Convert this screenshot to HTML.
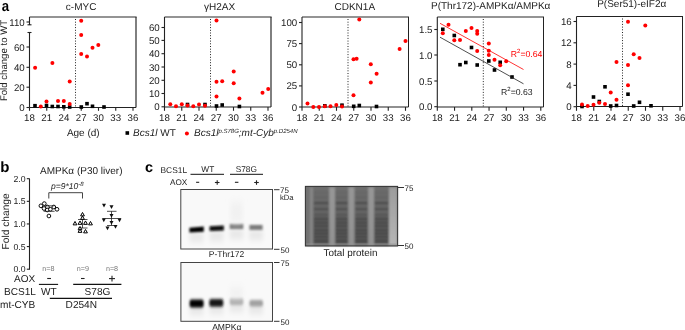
<!DOCTYPE html>
<html><head><meta charset="utf-8"><style>
html,body{margin:0;padding:0;background:#fff;width:685px;height:330px;overflow:hidden;position:relative}
</style></head><body>
<svg width="685" height="330" viewBox="0 0 685 330" style="position:absolute;left:0;top:0;will-change:transform" text-rendering="geometricPrecision" font-family='"Liberation Sans", sans-serif'>
<rect width="685" height="330" fill="#fff"/>
<text transform="translate(1.7,10.6) scale(0.88,1)" font-size="15" font-weight="bold" fill="#000">a</text>
<text transform="translate(7.0,60.5) rotate(-90)" font-size="9.62" text-anchor="middle" fill="#222">Fold change to WT</text>
<line x1="29.5" y1="17" x2="136.6" y2="17" stroke="#2a2a2a" stroke-width="1.2" />
<line x1="136" y1="17" x2="136" y2="107.5" stroke="#2a2a2a" stroke-width="1.2" />
<line x1="29.5" y1="107.5" x2="136" y2="107.5" stroke="#222" stroke-width="1.1" />
<line x1="29.5" y1="17" x2="29.5" y2="25" stroke="#222" stroke-width="1.1" />
<line x1="27.5" y1="24.8" x2="31.5" y2="24.8" stroke="#222" stroke-width="1.1" />
<line x1="29.5" y1="32.5" x2="29.5" y2="107.5" stroke="#222" stroke-width="1.1" />
<line x1="27.5" y1="32.5" x2="31.5" y2="32.5" stroke="#222" stroke-width="1.1" />
<line x1="26.5" y1="22" x2="29.5" y2="22" stroke="#222" stroke-width="1.1" />
<text x="24.7" y="25.5" font-size="9.7" text-anchor="end" fill="#222" >110</text>
<line x1="26.5" y1="47" x2="29.5" y2="47" stroke="#222" stroke-width="1.1" />
<text x="24.7" y="50.5" font-size="9.7" text-anchor="end" fill="#222" >60</text>
<line x1="26.5" y1="67.3" x2="29.5" y2="67.3" stroke="#222" stroke-width="1.1" />
<text x="24.7" y="70.8" font-size="9.7" text-anchor="end" fill="#222" >40</text>
<line x1="26.5" y1="87.2" x2="29.5" y2="87.2" stroke="#222" stroke-width="1.1" />
<text x="24.7" y="90.7" font-size="9.7" text-anchor="end" fill="#222" >20</text>
<line x1="26.5" y1="107.5" x2="29.5" y2="107.5" stroke="#222" stroke-width="1.1" />
<text x="24.7" y="111.0" font-size="9.7" text-anchor="end" fill="#222" >0</text>
<line x1="29.5" y1="107.5" x2="29.5" y2="110.8" stroke="#222" stroke-width="1.1" />
<text x="29.5" y="121.0" font-size="9.7" text-anchor="middle" fill="#222" >18</text>
<line x1="46.75" y1="107.5" x2="46.75" y2="110.8" stroke="#222" stroke-width="1.1" />
<text x="46.75" y="121.0" font-size="9.7" text-anchor="middle" fill="#222" >21</text>
<line x1="64.0" y1="107.5" x2="64.0" y2="110.8" stroke="#222" stroke-width="1.1" />
<text x="64.0" y="121.0" font-size="9.7" text-anchor="middle" fill="#222" >24</text>
<line x1="81.25" y1="107.5" x2="81.25" y2="110.8" stroke="#222" stroke-width="1.1" />
<text x="81.25" y="121.0" font-size="9.7" text-anchor="middle" fill="#222" >27</text>
<line x1="98.5" y1="107.5" x2="98.5" y2="110.8" stroke="#222" stroke-width="1.1" />
<text x="98.5" y="121.0" font-size="9.7" text-anchor="middle" fill="#222" >30</text>
<line x1="115.75" y1="107.5" x2="115.75" y2="110.8" stroke="#222" stroke-width="1.1" />
<text x="115.75" y="121.0" font-size="9.7" text-anchor="middle" fill="#222" >33</text>
<line x1="133.0" y1="107.5" x2="133.0" y2="110.8" stroke="#222" stroke-width="1.1" />
<text x="133.0" y="121.0" font-size="9.7" text-anchor="middle" fill="#222" >36</text>
<line x1="75.5" y1="19" x2="75.5" y2="107.5" stroke="#222" stroke-width="1" stroke-dasharray="1 1.7"/>
<rect x="33.20" y="103.90" width="3.6" height="3.6" fill="#000"/>
<rect x="44.70" y="103.70" width="3.6" height="3.6" fill="#000"/>
<rect x="50.50" y="104.70" width="3.6" height="3.6" fill="#000"/>
<rect x="56.20" y="104.70" width="3.6" height="3.6" fill="#000"/>
<rect x="62.00" y="105.00" width="3.6" height="3.6" fill="#000"/>
<rect x="67.90" y="105.20" width="3.6" height="3.6" fill="#000"/>
<rect x="79.50" y="105.20" width="3.6" height="3.6" fill="#000"/>
<rect x="85.20" y="101.90" width="3.6" height="3.6" fill="#000"/>
<rect x="90.70" y="104.50" width="3.6" height="3.6" fill="#000"/>
<rect x="102.20" y="105.20" width="3.6" height="3.6" fill="#000"/>
<circle cx="35.1" cy="67.8" r="2" fill="#ff0000"/>
<circle cx="40.8" cy="106.5" r="2" fill="#ff0000"/>
<circle cx="46.5" cy="101.5" r="2" fill="#ff0000"/>
<circle cx="52.4" cy="63" r="2" fill="#ff0000"/>
<circle cx="58" cy="101" r="2" fill="#ff0000"/>
<circle cx="63.8" cy="101" r="2" fill="#ff0000"/>
<circle cx="69.7" cy="81.5" r="2" fill="#ff0000"/>
<circle cx="69.7" cy="104" r="2" fill="#ff0000"/>
<circle cx="81.2" cy="20.8" r="2" fill="#ff0000"/>
<circle cx="81.2" cy="35" r="2" fill="#ff0000"/>
<circle cx="81.2" cy="54" r="2" fill="#ff0000"/>
<circle cx="87" cy="56.5" r="2" fill="#ff0000"/>
<circle cx="92.5" cy="47.7" r="2" fill="#ff0000"/>
<circle cx="98.3" cy="45" r="2" fill="#ff0000"/>
<text x="65.8" y="9.5" font-size="10" text-anchor="start" fill="#222" >c-MYC</text>
<line x1="164.5" y1="17" x2="271.6" y2="17" stroke="#2a2a2a" stroke-width="1.2" />
<line x1="271" y1="17" x2="271" y2="107" stroke="#2a2a2a" stroke-width="1.2" />
<line x1="164.5" y1="107" x2="271" y2="107" stroke="#222" stroke-width="1.1" />
<line x1="164.5" y1="17" x2="164.5" y2="107" stroke="#222" stroke-width="1.1" />
<line x1="161.5" y1="27.5" x2="164.5" y2="27.5" stroke="#222" stroke-width="1.1" />
<text x="159.7" y="31.0" font-size="9.7" text-anchor="end" fill="#222" >60</text>
<line x1="161.5" y1="40.4" x2="164.5" y2="40.4" stroke="#222" stroke-width="1.1" />
<text x="159.7" y="43.9" font-size="9.7" text-anchor="end" fill="#222" >50</text>
<line x1="161.5" y1="53.7" x2="164.5" y2="53.7" stroke="#222" stroke-width="1.1" />
<text x="159.7" y="57.2" font-size="9.7" text-anchor="end" fill="#222" >40</text>
<line x1="161.5" y1="67" x2="164.5" y2="67" stroke="#222" stroke-width="1.1" />
<text x="159.7" y="70.5" font-size="9.7" text-anchor="end" fill="#222" >30</text>
<line x1="161.5" y1="80.3" x2="164.5" y2="80.3" stroke="#222" stroke-width="1.1" />
<text x="159.7" y="83.8" font-size="9.7" text-anchor="end" fill="#222" >20</text>
<line x1="161.5" y1="93.5" x2="164.5" y2="93.5" stroke="#222" stroke-width="1.1" />
<text x="159.7" y="97.0" font-size="9.7" text-anchor="end" fill="#222" >10</text>
<line x1="161.5" y1="106.8" x2="164.5" y2="106.8" stroke="#222" stroke-width="1.1" />
<text x="159.7" y="110.3" font-size="9.7" text-anchor="end" fill="#222" >0</text>
<line x1="164.5" y1="107" x2="164.5" y2="110.8" stroke="#222" stroke-width="1.1" />
<text x="164.5" y="121.0" font-size="9.7" text-anchor="middle" fill="#222" >18</text>
<line x1="181.75" y1="107" x2="181.75" y2="110.8" stroke="#222" stroke-width="1.1" />
<text x="181.75" y="121.0" font-size="9.7" text-anchor="middle" fill="#222" >21</text>
<line x1="199.0" y1="107" x2="199.0" y2="110.8" stroke="#222" stroke-width="1.1" />
<text x="199.0" y="121.0" font-size="9.7" text-anchor="middle" fill="#222" >24</text>
<line x1="216.25" y1="107" x2="216.25" y2="110.8" stroke="#222" stroke-width="1.1" />
<text x="216.25" y="121.0" font-size="9.7" text-anchor="middle" fill="#222" >27</text>
<line x1="233.5" y1="107" x2="233.5" y2="110.8" stroke="#222" stroke-width="1.1" />
<text x="233.5" y="121.0" font-size="9.7" text-anchor="middle" fill="#222" >30</text>
<line x1="250.75" y1="107" x2="250.75" y2="110.8" stroke="#222" stroke-width="1.1" />
<text x="250.75" y="121.0" font-size="9.7" text-anchor="middle" fill="#222" >33</text>
<line x1="268.0" y1="107" x2="268.0" y2="110.8" stroke="#222" stroke-width="1.1" />
<text x="268.0" y="121.0" font-size="9.7" text-anchor="middle" fill="#222" >36</text>
<line x1="210.5" y1="19" x2="210.5" y2="107" stroke="#222" stroke-width="1" stroke-dasharray="1 1.7"/>
<rect x="185.70" y="102.70" width="3.6" height="3.6" fill="#000"/>
<rect x="203.20" y="102.70" width="3.6" height="3.6" fill="#000"/>
<rect x="214.70" y="104.20" width="3.6" height="3.6" fill="#000"/>
<rect x="220.40" y="103.20" width="3.6" height="3.6" fill="#000"/>
<rect x="237.60" y="104.70" width="3.6" height="3.6" fill="#000"/>
<circle cx="170.3" cy="104.3" r="2" fill="#ff0000"/>
<circle cx="176" cy="106.3" r="2" fill="#ff0000"/>
<circle cx="181.8" cy="104.3" r="2" fill="#ff0000"/>
<circle cx="187.5" cy="105.5" r="2" fill="#ff0000"/>
<circle cx="193.3" cy="106.3" r="2" fill="#ff0000"/>
<circle cx="199" cy="104.5" r="2" fill="#ff0000"/>
<circle cx="205" cy="105.8" r="2" fill="#ff0000"/>
<circle cx="216.5" cy="20.5" r="2" fill="#ff0000"/>
<circle cx="216.5" cy="81.8" r="2" fill="#ff0000"/>
<circle cx="222.2" cy="81.2" r="2" fill="#ff0000"/>
<circle cx="233.7" cy="83.2" r="2" fill="#ff0000"/>
<circle cx="216.5" cy="96.5" r="2" fill="#ff0000"/>
<circle cx="239.4" cy="98.5" r="2" fill="#ff0000"/>
<circle cx="262.5" cy="92.7" r="2" fill="#ff0000"/>
<circle cx="268.2" cy="89" r="2" fill="#ff0000"/>
<circle cx="233.7" cy="71.4" r="2" fill="#ff0000"/>
<text x="204" y="9.6" font-size="10" text-anchor="start" fill="#222" >γH2AX</text>
<line x1="302" y1="17" x2="409.0" y2="17" stroke="#2a2a2a" stroke-width="1.2" />
<line x1="408.5" y1="17" x2="408.5" y2="107" stroke="#222" stroke-width="1.0" />
<line x1="302" y1="107" x2="408.5" y2="107" stroke="#222" stroke-width="1.1" />
<line x1="302" y1="17" x2="302" y2="107" stroke="#222" stroke-width="1.1" />
<line x1="299" y1="22.5" x2="302" y2="22.5" stroke="#222" stroke-width="1.1" />
<text x="297.2" y="26.0" font-size="9.7" text-anchor="end" fill="#222" >100</text>
<line x1="299" y1="43.6" x2="302" y2="43.6" stroke="#222" stroke-width="1.1" />
<text x="297.2" y="47.1" font-size="9.7" text-anchor="end" fill="#222" >75</text>
<line x1="299" y1="64.8" x2="302" y2="64.8" stroke="#222" stroke-width="1.1" />
<text x="297.2" y="68.3" font-size="9.7" text-anchor="end" fill="#222" >50</text>
<line x1="299" y1="85.9" x2="302" y2="85.9" stroke="#222" stroke-width="1.1" />
<text x="297.2" y="89.4" font-size="9.7" text-anchor="end" fill="#222" >25</text>
<line x1="299" y1="107" x2="302" y2="107" stroke="#222" stroke-width="1.1" />
<text x="297.2" y="110.5" font-size="9.7" text-anchor="end" fill="#222" >0</text>
<line x1="302.0" y1="107" x2="302.0" y2="110.8" stroke="#222" stroke-width="1.1" />
<text x="302.0" y="121.0" font-size="9.7" text-anchor="middle" fill="#222" >18</text>
<line x1="319.25" y1="107" x2="319.25" y2="110.8" stroke="#222" stroke-width="1.1" />
<text x="319.25" y="121.0" font-size="9.7" text-anchor="middle" fill="#222" >21</text>
<line x1="336.5" y1="107" x2="336.5" y2="110.8" stroke="#222" stroke-width="1.1" />
<text x="336.5" y="121.0" font-size="9.7" text-anchor="middle" fill="#222" >24</text>
<line x1="353.75" y1="107" x2="353.75" y2="110.8" stroke="#222" stroke-width="1.1" />
<text x="353.75" y="121.0" font-size="9.7" text-anchor="middle" fill="#222" >27</text>
<line x1="371.0" y1="107" x2="371.0" y2="110.8" stroke="#222" stroke-width="1.1" />
<text x="371.0" y="121.0" font-size="9.7" text-anchor="middle" fill="#222" >30</text>
<line x1="388.25" y1="107" x2="388.25" y2="110.8" stroke="#222" stroke-width="1.1" />
<text x="388.25" y="121.0" font-size="9.7" text-anchor="middle" fill="#222" >33</text>
<line x1="405.5" y1="107" x2="405.5" y2="110.8" stroke="#222" stroke-width="1.1" />
<text x="405.5" y="121.0" font-size="9.7" text-anchor="middle" fill="#222" >36</text>
<line x1="348.0" y1="19" x2="348.0" y2="107" stroke="#222" stroke-width="1" stroke-dasharray="1 1.7"/>
<rect x="323.00" y="104.00" width="3.6" height="3.6" fill="#000"/>
<rect x="340.20" y="103.40" width="3.6" height="3.6" fill="#000"/>
<rect x="351.90" y="104.50" width="3.6" height="3.6" fill="#000"/>
<rect x="357.50" y="103.70" width="3.6" height="3.6" fill="#000"/>
<rect x="374.70" y="104.70" width="3.6" height="3.6" fill="#000"/>
<circle cx="307.5" cy="103.5" r="2" fill="#ff0000"/>
<circle cx="313.3" cy="107" r="2" fill="#ff0000"/>
<circle cx="319" cy="107" r="2" fill="#ff0000"/>
<circle cx="324.8" cy="106.3" r="2" fill="#ff0000"/>
<circle cx="330.5" cy="106.3" r="2" fill="#ff0000"/>
<circle cx="336.3" cy="105" r="2" fill="#ff0000"/>
<circle cx="342" cy="106.5" r="2" fill="#ff0000"/>
<circle cx="353.5" cy="95.3" r="2" fill="#ff0000"/>
<circle cx="353.5" cy="59.2" r="2" fill="#ff0000"/>
<circle cx="356.6" cy="58.8" r="2" fill="#ff0000"/>
<circle cx="359.3" cy="19.5" r="2" fill="#ff0000"/>
<circle cx="370.8" cy="64.2" r="2" fill="#ff0000"/>
<circle cx="370.8" cy="82.5" r="2" fill="#ff0000"/>
<circle cx="376.6" cy="73.8" r="2" fill="#ff0000"/>
<circle cx="399.6" cy="49" r="2" fill="#ff0000"/>
<circle cx="405.5" cy="41" r="2" fill="#ff0000"/>
<text x="334.5" y="9.6" font-size="10" text-anchor="start" fill="#222" >CDKN1A</text>
<line x1="437.3" y1="17" x2="544.0" y2="17" stroke="#2a2a2a" stroke-width="1.2" />
<line x1="543.5" y1="17" x2="543.5" y2="107" stroke="#222" stroke-width="1.0" />
<line x1="437.3" y1="107" x2="543.5" y2="107" stroke="#222" stroke-width="1.1" />
<line x1="437.3" y1="17" x2="437.3" y2="107" stroke="#222" stroke-width="1.1" />
<line x1="434.3" y1="29.5" x2="437.3" y2="29.5" stroke="#222" stroke-width="1.1" />
<text x="432.5" y="33.0" font-size="9.7" text-anchor="end" fill="#222" >1.5</text>
<line x1="434.3" y1="55" x2="437.3" y2="55" stroke="#222" stroke-width="1.1" />
<text x="432.5" y="58.5" font-size="9.7" text-anchor="end" fill="#222" >1.0</text>
<line x1="434.3" y1="81" x2="437.3" y2="81" stroke="#222" stroke-width="1.1" />
<text x="432.5" y="84.5" font-size="9.7" text-anchor="end" fill="#222" >0.5</text>
<line x1="434.3" y1="106.7" x2="437.3" y2="106.7" stroke="#222" stroke-width="1.1" />
<text x="432.5" y="110.2" font-size="9.7" text-anchor="end" fill="#222" >0.0</text>
<line x1="437.3" y1="107" x2="437.3" y2="110.8" stroke="#222" stroke-width="1.1" />
<text x="437.3" y="121.0" font-size="9.7" text-anchor="middle" fill="#222" >18</text>
<line x1="454.55" y1="107" x2="454.55" y2="110.8" stroke="#222" stroke-width="1.1" />
<text x="454.55" y="121.0" font-size="9.7" text-anchor="middle" fill="#222" >21</text>
<line x1="471.8" y1="107" x2="471.8" y2="110.8" stroke="#222" stroke-width="1.1" />
<text x="471.8" y="121.0" font-size="9.7" text-anchor="middle" fill="#222" >24</text>
<line x1="489.05" y1="107" x2="489.05" y2="110.8" stroke="#222" stroke-width="1.1" />
<text x="489.05" y="121.0" font-size="9.7" text-anchor="middle" fill="#222" >27</text>
<line x1="506.3" y1="107" x2="506.3" y2="110.8" stroke="#222" stroke-width="1.1" />
<text x="506.3" y="121.0" font-size="9.7" text-anchor="middle" fill="#222" >30</text>
<line x1="523.55" y1="107" x2="523.55" y2="110.8" stroke="#222" stroke-width="1.1" />
<text x="523.55" y="121.0" font-size="9.7" text-anchor="middle" fill="#222" >33</text>
<line x1="540.8" y1="107" x2="540.8" y2="110.8" stroke="#222" stroke-width="1.1" />
<text x="540.8" y="121.0" font-size="9.7" text-anchor="middle" fill="#222" >36</text>
<line x1="483.3" y1="19" x2="483.3" y2="107" stroke="#222" stroke-width="1" stroke-dasharray="1 1.7"/>
<rect x="441.00" y="27.50" width="3.6" height="3.6" fill="#000"/>
<rect x="452.50" y="33.70" width="3.6" height="3.6" fill="#000"/>
<rect x="458.20" y="62.90" width="3.6" height="3.6" fill="#000"/>
<rect x="464.00" y="60.70" width="3.6" height="3.6" fill="#000"/>
<rect x="469.70" y="45.70" width="3.6" height="3.6" fill="#000"/>
<rect x="475.40" y="63.20" width="3.6" height="3.6" fill="#000"/>
<rect x="487.00" y="59.20" width="3.6" height="3.6" fill="#000"/>
<rect x="492.70" y="68.20" width="3.6" height="3.6" fill="#000"/>
<rect x="498.40" y="60.50" width="3.6" height="3.6" fill="#000"/>
<rect x="510.20" y="75.20" width="3.6" height="3.6" fill="#000"/>
<circle cx="442.8" cy="33.2" r="2" fill="#ff0000"/>
<circle cx="448.5" cy="24.7" r="2" fill="#ff0000"/>
<circle cx="454.3" cy="40.3" r="2" fill="#ff0000"/>
<circle cx="460" cy="40" r="2" fill="#ff0000"/>
<circle cx="465.8" cy="31" r="2" fill="#ff0000"/>
<circle cx="471.5" cy="28" r="2" fill="#ff0000"/>
<circle cx="477.2" cy="31" r="2" fill="#ff0000"/>
<circle cx="477.2" cy="33.8" r="2" fill="#ff0000"/>
<circle cx="477.2" cy="51" r="2" fill="#ff0000"/>
<circle cx="488.8" cy="43.5" r="2" fill="#ff0000"/>
<circle cx="488.8" cy="50.8" r="2" fill="#ff0000"/>
<circle cx="488.8" cy="55" r="2" fill="#ff0000"/>
<circle cx="494.5" cy="59.8" r="2" fill="#ff0000"/>
<circle cx="500.2" cy="65.3" r="2" fill="#ff0000"/>
<circle cx="506.2" cy="61.2" r="2" fill="#ff0000"/>
<text x="431" y="9.3" font-size="10" text-anchor="start" fill="#222" >P(Thr172)-AMPKα/AMPKα</text>
<line x1="440" y1="23.3" x2="523.5" y2="69.5" stroke="#ff0000" stroke-width="0.8" />
<line x1="440" y1="37.2" x2="523.5" y2="83.8" stroke="#222" stroke-width="0.8" />
<text x="510.8" y="56.5" font-size="8.7" fill="#ff0000">R<tspan font-size="6" dy="-3.5">2</tspan><tspan dy="3.5">=0.64</tspan></text>
<text x="501" y="94.8" font-size="8.7" fill="#222">R<tspan font-size="6" dy="-3.5">2</tspan><tspan dy="3.5">=0.63</tspan></text>
<line x1="576.5" y1="16.5" x2="683.0" y2="16.5" stroke="#222" stroke-width="1.0" />
<line x1="682.5" y1="16.5" x2="682.5" y2="106.5" stroke="#222" stroke-width="1.0" />
<line x1="576.5" y1="106.5" x2="682.5" y2="106.5" stroke="#222" stroke-width="1.1" />
<line x1="576.5" y1="16.5" x2="576.5" y2="106.5" stroke="#222" stroke-width="1.1" />
<line x1="573.5" y1="21.5" x2="576.5" y2="21.5" stroke="#222" stroke-width="1.1" />
<text x="571.7" y="25.0" font-size="9.7" text-anchor="end" fill="#222" >16</text>
<line x1="573.5" y1="42.8" x2="576.5" y2="42.8" stroke="#222" stroke-width="1.1" />
<text x="571.7" y="46.3" font-size="9.7" text-anchor="end" fill="#222" >12</text>
<line x1="573.5" y1="64.1" x2="576.5" y2="64.1" stroke="#222" stroke-width="1.1" />
<text x="571.7" y="67.6" font-size="9.7" text-anchor="end" fill="#222" >8</text>
<line x1="573.5" y1="85.4" x2="576.5" y2="85.4" stroke="#222" stroke-width="1.1" />
<text x="571.7" y="88.9" font-size="9.7" text-anchor="end" fill="#222" >4</text>
<line x1="573.5" y1="106.7" x2="576.5" y2="106.7" stroke="#222" stroke-width="1.1" />
<text x="571.7" y="110.2" font-size="9.7" text-anchor="end" fill="#222" >0</text>
<line x1="576.5" y1="106.5" x2="576.5" y2="110.8" stroke="#222" stroke-width="1.1" />
<text x="576.5" y="121.0" font-size="9.7" text-anchor="middle" fill="#222" >18</text>
<line x1="593.75" y1="106.5" x2="593.75" y2="110.8" stroke="#222" stroke-width="1.1" />
<text x="593.75" y="121.0" font-size="9.7" text-anchor="middle" fill="#222" >21</text>
<line x1="611.0" y1="106.5" x2="611.0" y2="110.8" stroke="#222" stroke-width="1.1" />
<text x="611.0" y="121.0" font-size="9.7" text-anchor="middle" fill="#222" >24</text>
<line x1="628.25" y1="106.5" x2="628.25" y2="110.8" stroke="#222" stroke-width="1.1" />
<text x="628.25" y="121.0" font-size="9.7" text-anchor="middle" fill="#222" >27</text>
<line x1="645.5" y1="106.5" x2="645.5" y2="110.8" stroke="#222" stroke-width="1.1" />
<text x="645.5" y="121.0" font-size="9.7" text-anchor="middle" fill="#222" >30</text>
<line x1="662.75" y1="106.5" x2="662.75" y2="110.8" stroke="#222" stroke-width="1.1" />
<text x="662.75" y="121.0" font-size="9.7" text-anchor="middle" fill="#222" >33</text>
<line x1="680.0" y1="106.5" x2="680.0" y2="110.8" stroke="#222" stroke-width="1.1" />
<text x="680.0" y="121.0" font-size="9.7" text-anchor="middle" fill="#222" >36</text>
<line x1="622.5" y1="18.5" x2="622.5" y2="106.5" stroke="#222" stroke-width="1" stroke-dasharray="1 1.7"/>
<rect x="580.20" y="104.70" width="3.6" height="3.6" fill="#000"/>
<rect x="591.70" y="95.20" width="3.6" height="3.6" fill="#000"/>
<rect x="597.50" y="99.70" width="3.6" height="3.6" fill="#000"/>
<rect x="603.20" y="85.00" width="3.6" height="3.6" fill="#000"/>
<rect x="608.90" y="104.20" width="3.6" height="3.6" fill="#000"/>
<rect x="614.70" y="103.70" width="3.6" height="3.6" fill="#000"/>
<rect x="626.20" y="92.40" width="3.6" height="3.6" fill="#000"/>
<rect x="631.90" y="104.20" width="3.6" height="3.6" fill="#000"/>
<rect x="637.70" y="100.50" width="3.6" height="3.6" fill="#000"/>
<rect x="649.20" y="104.00" width="3.6" height="3.6" fill="#000"/>
<circle cx="582" cy="104.5" r="2" fill="#ff0000"/>
<circle cx="587.7" cy="106" r="2" fill="#ff0000"/>
<circle cx="593.5" cy="104.7" r="2" fill="#ff0000"/>
<circle cx="599.3" cy="102.8" r="2" fill="#ff0000"/>
<circle cx="605" cy="104" r="2" fill="#ff0000"/>
<circle cx="610.7" cy="92.5" r="2" fill="#ff0000"/>
<circle cx="616.5" cy="99.8" r="2" fill="#ff0000"/>
<circle cx="616.5" cy="62" r="2" fill="#ff0000"/>
<circle cx="628" cy="85.3" r="2" fill="#ff0000"/>
<circle cx="628" cy="65" r="2" fill="#ff0000"/>
<circle cx="628" cy="21.8" r="2" fill="#ff0000"/>
<circle cx="633.7" cy="54.2" r="2" fill="#ff0000"/>
<circle cx="639.5" cy="58" r="2" fill="#ff0000"/>
<circle cx="645.3" cy="25.5" r="2" fill="#ff0000"/>
<text x="597.2" y="7.0" font-size="10" text-anchor="start" fill="#222" >P(Ser51)-eIF2α</text>
<text x="66.9" y="135.9" font-size="10" text-anchor="start" fill="#222" >Age (d)</text>
<rect x="125.50" y="131.20" width="3.6" height="3.6" fill="#000"/>
<text x="133" y="136.3" font-size="10" fill="#222"><tspan font-style="italic">Bcs1l</tspan> WT</text>
<circle cx="186.9" cy="133.6" r="2" fill="#ff0000"/>
<text x="194" y="136.3" font-size="10" fill="#222" font-style="italic">Bcs1l<tspan font-size="6" dy="-3.5">p.S78G</tspan><tspan dy="3.5">;mt-Cyb</tspan><tspan font-size="6" dy="-3.5">p.D254N</tspan></text>
<text x="0.3" y="171.9" font-size="15" text-anchor="start" fill="#000" font-weight="bold">b</text>
<text x="40" y="173.8" font-size="10" text-anchor="start" fill="#222" >AMPKα (P30 liver)</text>
<text transform="translate(8.8,221.4) rotate(-90)" font-size="10.2" text-anchor="middle" fill="#222">Fold change</text>
<line x1="29.5" y1="178.5" x2="29.5" y2="269.7" stroke="#222" stroke-width="1.1" />
<line x1="26.8" y1="178.7" x2="29.5" y2="178.7" stroke="#222" stroke-width="1.1" />
<text x="25.6" y="181.79999999999998" font-size="8.7" text-anchor="end" fill="#222" >2.0</text>
<line x1="26.8" y1="201.325" x2="29.5" y2="201.325" stroke="#222" stroke-width="1.1" />
<text x="25.6" y="204.42499999999998" font-size="8.7" text-anchor="end" fill="#222" >1.5</text>
<line x1="26.8" y1="223.95" x2="29.5" y2="223.95" stroke="#222" stroke-width="1.1" />
<text x="25.6" y="227.04999999999998" font-size="8.7" text-anchor="end" fill="#222" >1.0</text>
<line x1="26.8" y1="246.575" x2="29.5" y2="246.575" stroke="#222" stroke-width="1.1" />
<text x="25.6" y="249.67499999999998" font-size="8.7" text-anchor="end" fill="#222" >0.5</text>
<line x1="26.8" y1="269.2" x2="29.5" y2="269.2" stroke="#222" stroke-width="1.1" />
<text x="25.6" y="272.3" font-size="8.7" text-anchor="end" fill="#222" >0.0</text>
<path d="M48.8 198.5 V192.7 H82.5 V198.5" fill="none" stroke="#444" stroke-width="1"/>
<text x="51" y="188.8" font-size="8.5" font-style="italic" fill="#222">p=9*10<tspan font-size="6" dy="-3.2">-8</tspan></text>
<circle cx="40.9" cy="205.8" r="1.85" fill="#fff" stroke="#000" stroke-width="0.95"/>
<circle cx="44.3" cy="203.6" r="1.85" fill="#fff" stroke="#000" stroke-width="0.95"/>
<circle cx="44" cy="208.5" r="1.85" fill="#fff" stroke="#000" stroke-width="0.95"/>
<circle cx="47.4" cy="207" r="1.85" fill="#fff" stroke="#000" stroke-width="0.95"/>
<circle cx="47.2" cy="210" r="1.85" fill="#fff" stroke="#000" stroke-width="0.95"/>
<circle cx="50.4" cy="209.3" r="1.85" fill="#fff" stroke="#000" stroke-width="0.95"/>
<circle cx="53.8" cy="207" r="1.85" fill="#fff" stroke="#000" stroke-width="0.95"/>
<circle cx="57" cy="209.3" r="1.85" fill="#fff" stroke="#000" stroke-width="0.95"/>
<circle cx="48.9" cy="216" r="1.85" fill="#fff" stroke="#000" stroke-width="0.95"/>
<line x1="43.6" y1="205.8" x2="54.6" y2="205.8" stroke="#222" stroke-width="0.8" />
<line x1="43.6" y1="211.3" x2="54.6" y2="211.3" stroke="#222" stroke-width="0.8" />
<line x1="78" y1="219.5" x2="87.5" y2="219.5" stroke="#222" stroke-width="0.8" />
<line x1="78" y1="228" x2="87.5" y2="228" stroke="#222" stroke-width="0.8" />
<line x1="82.5" y1="214" x2="82.5" y2="228" stroke="#222" stroke-width="0.8" />
<path d="M82.5 212.45 L84.40 215.87 L80.60 215.87 Z" fill="#fff" stroke="#000" stroke-width="1" stroke-linejoin="round"/>
<path d="M82.5 215.95 L84.40 219.37 L80.60 219.37 Z" fill="#fff" stroke="#000" stroke-width="1" stroke-linejoin="round"/>
<path d="M75 221.45 L76.90 224.87 L73.10 224.87 Z" fill="#fff" stroke="#000" stroke-width="1" stroke-linejoin="round"/>
<path d="M80 220.95 L81.90 224.37 L78.10 224.37 Z" fill="#fff" stroke="#000" stroke-width="1" stroke-linejoin="round"/>
<path d="M85.5 220.95 L87.40 224.37 L83.60 224.37 Z" fill="#fff" stroke="#000" stroke-width="1" stroke-linejoin="round"/>
<path d="M90.5 221.45 L92.40 224.87 L88.60 224.87 Z" fill="#fff" stroke="#000" stroke-width="1" stroke-linejoin="round"/>
<path d="M80 226.45 L81.90 229.87 L78.10 229.87 Z" fill="#fff" stroke="#000" stroke-width="1" stroke-linejoin="round"/>
<path d="M80 228.95 L81.90 232.37 L78.10 232.37 Z" fill="#fff" stroke="#000" stroke-width="1" stroke-linejoin="round"/>
<path d="M85.5 229.45 L87.40 232.87 L83.60 232.87 Z" fill="#fff" stroke="#000" stroke-width="1" stroke-linejoin="round"/>
<line x1="102.5" y1="218.5" x2="121" y2="218.5" stroke="#222" stroke-width="0.8" />
<line x1="107" y1="211.3" x2="116.5" y2="211.3" stroke="#222" stroke-width="0.8" />
<line x1="107" y1="225.5" x2="116.5" y2="225.5" stroke="#222" stroke-width="0.8" />
<line x1="111.5" y1="211.3" x2="111.5" y2="225.5" stroke="#222" stroke-width="0.8" />
<path d="M102.00 203.86 L106.00 203.86 L104 207.46 Z" fill="#111"/>
<path d="M109.50 205.36 L113.50 205.36 L111.5 208.96 Z" fill="#111"/>
<path d="M109.50 214.06 L113.50 214.06 L111.5 217.66 Z" fill="#111"/>
<path d="M101.80 218.56 L105.80 218.56 L103.8 222.16 Z" fill="#111"/>
<path d="M117.50 218.56 L121.50 218.56 L119.5 222.16 Z" fill="#111"/>
<path d="M109.50 221.06 L113.50 221.06 L111.5 224.66 Z" fill="#111"/>
<path d="M105.50 226.56 L109.50 226.56 L107.5 230.16 Z" fill="#111"/>
<path d="M113.50 225.06 L117.50 225.06 L115.5 228.66 Z" fill="#111"/>
<text x="48.3" y="271" font-size="7.2" text-anchor="middle" fill="#7a7a7a" >n=8</text>
<text x="82.9" y="271" font-size="7.2" text-anchor="middle" fill="#7a7a7a" >n=9</text>
<text x="112" y="271" font-size="7.2" text-anchor="middle" fill="#7a7a7a" >n=8</text>
<text x="14" y="281.5" font-size="10" text-anchor="start" fill="#222" >AOX</text>
<line x1="47.2" y1="278.5" x2="51" y2="278.5" stroke="#222" stroke-width="1.1" />
<line x1="81" y1="278.5" x2="84.6" y2="278.5" stroke="#222" stroke-width="1.1" />
<line x1="109" y1="278.6" x2="115" y2="278.6" stroke="#222" stroke-width="1.1" />
<line x1="112" y1="275.8" x2="112" y2="281.6" stroke="#222" stroke-width="1.1" />
<line x1="38.9" y1="284.4" x2="58.1" y2="284.4" stroke="#111" stroke-width="1.1" />
<line x1="73.2" y1="284.4" x2="121.4" y2="284.4" stroke="#111" stroke-width="1.1" />
<text x="4" y="294.5" font-size="10.1" text-anchor="start" fill="#222" >BCS1L</text>
<text x="41" y="294.5" font-size="10.1" text-anchor="start" fill="#222" >WT</text>
<text x="84.6" y="294.5" font-size="10.1" text-anchor="start" fill="#222" >S78G</text>
<line x1="49.8" y1="298.4" x2="112" y2="298.4" stroke="#111" stroke-width="1.1" />
<text x="0" y="308" font-size="10.1" text-anchor="start" fill="#222" >mt-CYB</text>
<text x="65.6" y="308" font-size="10.1" text-anchor="start" fill="#222" >D254N</text>
<text x="144.9" y="172.1" font-size="14.5" text-anchor="start" fill="#000" font-weight="bold">c</text>
<text x="160.5" y="172.5" font-size="8.4" text-anchor="start" fill="#222" >BCS1L</text>
<text x="207.8" y="171.5" font-size="8.3" text-anchor="middle" fill="#222" >WT</text>
<text x="246.3" y="171.5" font-size="8.3" text-anchor="middle" fill="#222" >S78G</text>
<line x1="190.5" y1="174.3" x2="224" y2="174.3" stroke="#111" stroke-width="1" />
<line x1="230" y1="174.3" x2="263" y2="174.3" stroke="#111" stroke-width="1" />
<text x="170" y="185.3" font-size="8.2" text-anchor="start" fill="#222" >AOX</text>
<line x1="196.1" y1="182.3" x2="199.2" y2="182.3" stroke="#222" stroke-width="1.1" />
<line x1="234.9" y1="182.3" x2="238.4" y2="182.3" stroke="#222" stroke-width="1.1" />
<line x1="214.89999999999998" y1="182.5" x2="219.5" y2="182.5" stroke="#222" stroke-width="1.1" />
<line x1="217.2" y1="180.3" x2="217.2" y2="184.8" stroke="#222" stroke-width="1.1" />
<line x1="254.2" y1="182.5" x2="258.8" y2="182.5" stroke="#222" stroke-width="1.1" />
<line x1="256.5" y1="180.3" x2="256.5" y2="184.8" stroke="#222" stroke-width="1.1" />
<defs>
<filter id="b1" x="-50%" y="-100%" width="200%" height="300%"><feGaussianBlur stdDeviation="1.1 0.9"/></filter>
<filter id="b2" x="-50%" y="-100%" width="200%" height="300%"><feGaussianBlur stdDeviation="1.3 1.4"/></filter>
<filter id="b3" x="-50%" y="-100%" width="200%" height="300%"><feGaussianBlur stdDeviation="2 4"/></filter>
<filter id="bt" x="-10%" y="-10%" width="120%" height="120%"><feGaussianBlur stdDeviation="0.8"/></filter>
<linearGradient id="tpr" x1="0" y1="0" x2="1" y2="0">
<stop offset="0" stop-color="#8a8a8a"/><stop offset="1" stop-color="#b0b0b0"/></linearGradient>
</defs>
<rect x="180.8" y="189.5" width="91.7" height="59.5" fill="#f9f9f9" stroke="#444" stroke-width="1"/>
<g filter="url(#b3)" opacity="0.12">
<rect x="189.5" y="234" width="14" height="6" fill="#000"/>
<rect x="209.5" y="233" width="14" height="6" fill="#000"/>
<rect x="229.5" y="231" width="14" height="6" fill="#000"/>
<rect x="249" y="232" width="14" height="6" fill="#000"/>
</g>
<g filter="url(#b1)">
<path d="M189.4 227.8 L203.8 226.6 L203.8 231.8 L189.4 232.4 Z" fill="#000"/>
<path d="M209.6 226.3 L223.8 225.5 L223.8 230.4 L209.6 231 Z" fill="#080808"/>
<rect x="229.8" y="223.8" width="13.4" height="5.2" fill="#707070"/>
<rect x="249.4" y="224.9" width="13.2" height="5" fill="#7c7c7c"/>
</g>
<rect x="230.5" y="202" width="12" height="21" fill="#f1f1f1" filter="url(#b3)"/>
<line x1="274" y1="189.7" x2="279.5" y2="189.7" stroke="#333" stroke-width="1" />
<text x="280" y="193.3" font-size="8" text-anchor="start" fill="#222" >75</text>
<text x="280" y="199.8" font-size="7.6" text-anchor="start" fill="#222" >kDa</text>
<line x1="274" y1="249.3" x2="279.5" y2="249.3" stroke="#333" stroke-width="1" />
<text x="280.5" y="252.8" font-size="8" text-anchor="start" fill="#222" >50</text>
<text x="226.5" y="257.4" font-size="8.5" text-anchor="middle" fill="#222" >P-Thr172</text>
<rect x="180.9" y="262.5" width="91.6" height="58.8" fill="#f9f9f9" stroke="#444" stroke-width="1"/>
<g filter="url(#b3)" opacity="0.12">
<rect x="189.5" y="307" width="14" height="6" fill="#000"/>
<rect x="209.5" y="306" width="14" height="6" fill="#000"/>
<rect x="229.5" y="304" width="14" height="6" fill="#000"/>
<rect x="249" y="306" width="14" height="6" fill="#000"/>
</g>
<g filter="url(#b2)">
<rect x="189.6" y="299.4" width="14" height="8.2" rx="2" fill="#000"/>
<rect x="209.3" y="299.1" width="14" height="7.6" rx="2" fill="#141414"/>
<rect x="229.8" y="297.9" width="13.4" height="7" rx="2" fill="#a8a8a8"/>
<rect x="249.4" y="299.9" width="13.6" height="6.6" rx="2" fill="#a0a0a0"/>
</g>
<rect x="230" y="288" width="13" height="10" fill="#f0f0f0" filter="url(#b3)"/>
<line x1="274" y1="262.5" x2="279.5" y2="262.5" stroke="#333" stroke-width="1" />
<text x="280.5" y="265.8" font-size="8" text-anchor="start" fill="#222" >75</text>
<line x1="274" y1="321.3" x2="279.5" y2="321.3" stroke="#333" stroke-width="1" />
<text x="280.5" y="324.8" font-size="8" text-anchor="start" fill="#222" >50</text>
<text x="226.8" y="329.6" font-size="8.6" text-anchor="middle" fill="#222" >AMPKα</text>
<defs><linearGradient id="lane" x1="0" y1="0" x2="0" y2="1">
<stop offset="0" stop-color="#6e6e6e"/><stop offset="0.4" stop-color="#646464"/><stop offset="0.55" stop-color="#606060"/><stop offset="1" stop-color="#5a5a5a"/></linearGradient>
<linearGradient id="gap" x1="0" y1="0" x2="0" y2="1">
<stop offset="0" stop-color="#979797"/><stop offset="1" stop-color="#929292"/></linearGradient>
<linearGradient id="rgt" x1="0" y1="0" x2="0" y2="1">
<stop offset="0" stop-color="#9c9c9c"/><stop offset="1" stop-color="#b6b6b6"/></linearGradient></defs>
<rect x="305.4" y="186.4" width="92.2" height="59.6" fill="#6a6a6a"/>
<g filter="url(#bt)">
<rect x="306" y="187" width="4" height="58.5" fill="#727272"/>
<rect x="310" y="187" width="3.3" height="58.5" fill="#868686"/>
<rect x="313.3" y="187" width="15.9" height="58.5" fill="url(#lane)"/>
<rect x="335" y="187" width="13.4" height="58.5" fill="url(#lane)"/>
<rect x="354.4" y="187" width="13.8" height="58.5" fill="url(#lane)"/>
<rect x="374" y="187" width="15.0" height="58.5" fill="url(#lane)"/>
<rect x="329.2" y="187" width="5.8" height="58.5" fill="url(#gap)"/>
<rect x="348.4" y="187" width="6.0" height="58.5" fill="url(#gap)"/>
<rect x="368.2" y="187" width="5.8" height="58.5" fill="url(#gap)"/>
<rect x="389" y="187" width="8.5" height="58.5" fill="url(#rgt)"/>
<rect x="313.8" y="191.75" width="14.9" height="1.5" fill="#222" opacity="0.12"/>
<rect x="335.5" y="191.75" width="12.4" height="1.5" fill="#222" opacity="0.12"/>
<rect x="354.9" y="191.75" width="12.8" height="1.5" fill="#222" opacity="0.12"/>
<rect x="374.5" y="191.75" width="14.0" height="1.5" fill="#222" opacity="0.12"/>
<rect x="313.8" y="196.25" width="14.9" height="1.5" fill="#222" opacity="0.12"/>
<rect x="335.5" y="196.25" width="12.4" height="1.5" fill="#222" opacity="0.12"/>
<rect x="354.9" y="196.25" width="12.8" height="1.5" fill="#222" opacity="0.12"/>
<rect x="374.5" y="196.25" width="14.0" height="1.5" fill="#222" opacity="0.12"/>
<rect x="313.8" y="202.45" width="14.9" height="1.5" fill="#222" opacity="0.6"/>
<rect x="335.5" y="202.45" width="12.4" height="1.5" fill="#222" opacity="0.6"/>
<rect x="354.9" y="202.45" width="12.8" height="1.5" fill="#222" opacity="0.6"/>
<rect x="374.5" y="202.45" width="14.0" height="1.5" fill="#222" opacity="0.6"/>
<rect x="313.8" y="208.25" width="14.9" height="1.5" fill="#222" opacity="0.45"/>
<rect x="335.5" y="208.25" width="12.4" height="1.5" fill="#222" opacity="0.45"/>
<rect x="354.9" y="208.25" width="12.8" height="1.5" fill="#222" opacity="0.45"/>
<rect x="374.5" y="208.25" width="14.0" height="1.5" fill="#222" opacity="0.45"/>
<rect x="313.8" y="214.05" width="14.9" height="1.5" fill="#222" opacity="0.25"/>
<rect x="335.5" y="214.05" width="12.4" height="1.5" fill="#222" opacity="0.25"/>
<rect x="354.9" y="214.05" width="12.8" height="1.5" fill="#222" opacity="0.25"/>
<rect x="374.5" y="214.05" width="14.0" height="1.5" fill="#222" opacity="0.25"/>
<rect x="313.8" y="218.25" width="14.9" height="1.5" fill="#222" opacity="0.6"/>
<rect x="335.5" y="218.25" width="12.4" height="1.5" fill="#222" opacity="0.6"/>
<rect x="354.9" y="218.25" width="12.8" height="1.5" fill="#222" opacity="0.6"/>
<rect x="374.5" y="218.25" width="14.0" height="1.5" fill="#222" opacity="0.6"/>
<rect x="313.8" y="221.85" width="14.9" height="1.5" fill="#222" opacity="0.6"/>
<rect x="335.5" y="221.85" width="12.4" height="1.5" fill="#222" opacity="0.6"/>
<rect x="354.9" y="221.85" width="12.8" height="1.5" fill="#222" opacity="0.6"/>
<rect x="374.5" y="221.85" width="14.0" height="1.5" fill="#222" opacity="0.6"/>
<rect x="313.8" y="225.45" width="14.9" height="1.5" fill="#222" opacity="0.6"/>
<rect x="335.5" y="225.45" width="12.4" height="1.5" fill="#222" opacity="0.6"/>
<rect x="354.9" y="225.45" width="12.8" height="1.5" fill="#222" opacity="0.6"/>
<rect x="374.5" y="225.45" width="14.0" height="1.5" fill="#222" opacity="0.6"/>
<rect x="313.8" y="229.05" width="14.9" height="1.5" fill="#222" opacity="0.6"/>
<rect x="335.5" y="229.05" width="12.4" height="1.5" fill="#222" opacity="0.6"/>
<rect x="354.9" y="229.05" width="12.8" height="1.5" fill="#222" opacity="0.6"/>
<rect x="374.5" y="229.05" width="14.0" height="1.5" fill="#222" opacity="0.6"/>
<rect x="313.8" y="232.65" width="14.9" height="1.5" fill="#222" opacity="0.6"/>
<rect x="335.5" y="232.65" width="12.4" height="1.5" fill="#222" opacity="0.6"/>
<rect x="354.9" y="232.65" width="12.8" height="1.5" fill="#222" opacity="0.6"/>
<rect x="374.5" y="232.65" width="14.0" height="1.5" fill="#222" opacity="0.6"/>
<rect x="313.8" y="236.25" width="14.9" height="1.5" fill="#222" opacity="0.55"/>
<rect x="335.5" y="236.25" width="12.4" height="1.5" fill="#222" opacity="0.55"/>
<rect x="354.9" y="236.25" width="12.8" height="1.5" fill="#222" opacity="0.55"/>
<rect x="374.5" y="236.25" width="14.0" height="1.5" fill="#222" opacity="0.55"/>
<rect x="313.8" y="240.05" width="14.9" height="1.5" fill="#222" opacity="0.7"/>
<rect x="335.5" y="240.05" width="12.4" height="1.5" fill="#222" opacity="0.7"/>
<rect x="354.9" y="240.05" width="12.8" height="1.5" fill="#222" opacity="0.7"/>
<rect x="374.5" y="240.05" width="14.0" height="1.5" fill="#222" opacity="0.7"/>
</g>
<rect x="306" y="243.3" width="91" height="2.4" fill="#999" opacity="0.6" filter="url(#bt)"/>
<rect x="305.4" y="186.4" width="92.2" height="59.6" fill="none" stroke="#333" stroke-width="1"/>
<line x1="398" y1="187.5" x2="404" y2="187.5" stroke="#333" stroke-width="1" />
<text x="404.5" y="190.5" font-size="8" text-anchor="start" fill="#222" >75</text>
<line x1="398" y1="245.5" x2="404" y2="245.5" stroke="#333" stroke-width="1" />
<text x="404.5" y="248.5" font-size="8" text-anchor="start" fill="#222" >50</text>
<text x="323.6" y="256" font-size="9.9" text-anchor="start" fill="#222" >Total protein</text>
</svg>
</body></html>
